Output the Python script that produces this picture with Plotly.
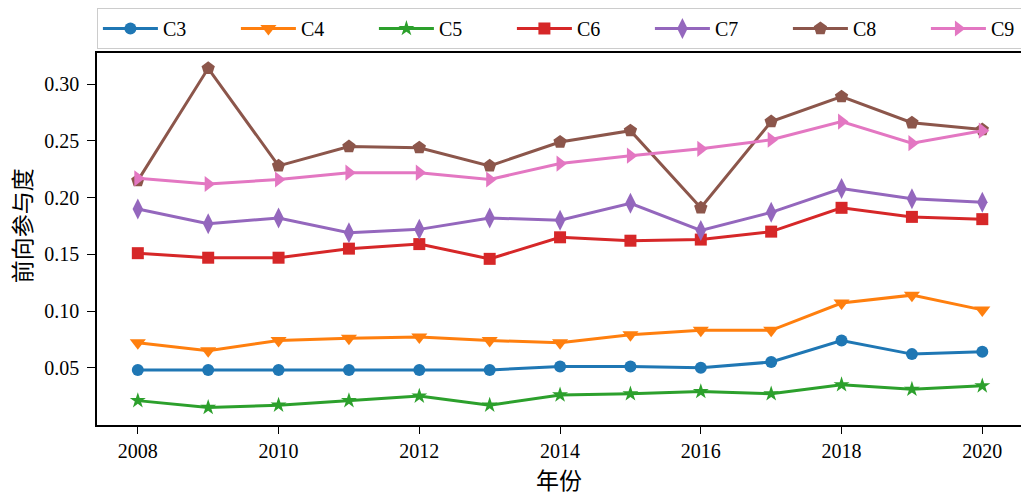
import plotly.graph_objects as go

# Years on the x axis
years = list(range(2008, 2021))

# Forward participation degree per sector group
c3 = [0.048, 0.048, 0.048, 0.048, 0.048, 0.048, 0.051, 0.051, 0.050, 0.055, 0.074, 0.062, 0.064]
c4 = [0.072, 0.065, 0.074, 0.076, 0.077, 0.074, 0.072, 0.079, 0.083, 0.083, 0.107, 0.114, 0.101]
c5 = [0.021, 0.015, 0.017, 0.021, 0.025, 0.017, 0.026, 0.027, 0.029, 0.027, 0.035, 0.031, 0.034]
c6 = [0.151, 0.147, 0.147, 0.155, 0.159, 0.146, 0.165, 0.162, 0.163, 0.170, 0.191, 0.183, 0.181]
c7 = [0.190, 0.177, 0.182, 0.169, 0.172, 0.182, 0.180, 0.195, 0.171, 0.187, 0.208, 0.199, 0.196]
c8 = [0.215, 0.314, 0.228, 0.245, 0.244, 0.228, 0.249, 0.259, 0.191, 0.267, 0.289, 0.266, 0.260]
c9 = [0.217, 0.212, 0.216, 0.222, 0.222, 0.216, 0.230, 0.237, 0.243, 0.251, 0.267, 0.248, 0.259]

series_names = ["C3", "C4", "C5", "C6", "C7", "C8", "C9"]
series_values = [c3, c4, c5, c6, c7, c8, c9]

x_tick_values = [2008, 2010, 2012, 2014, 2016, 2018, 2020]
y_tick_values = [0.05, 0.10, 0.15, 0.20, 0.25, 0.30]
y_tick_labels = ["0.05", "0.10", "0.15", "0.20", "0.25", "0.30"]

colors = ["#1f77b4", "#ff7f0e", "#2ca02c", "#d62728", "#9467bd", "#8c564b", "#e377c2"]
symbols = ["circle", "triangle-down", "star", "square", "diamond-tall", "pentagon", "triangle-right"]
sizes = [12, 14, 12, 12, 15, 14, 14]

SERIF = "Liberation Serif, Times New Roman, Noto Sans CJK SC, serif"
CJK = "Noto Sans CJK SC"

fig = go.Figure()
for name, vals, col, sym, sz in zip(series_names, series_values, colors, symbols, sizes):
    fig.add_trace(go.Scatter(
        x=years, y=vals, name=name, mode="lines+markers",
        line=dict(color=col, width=3),
        marker=dict(symbol=sym, size=sz, color=col, line=dict(width=0)),
    ))

# y-axis title, placed as rotated text left of the tick labels
fig.add_annotation(
    text="前向参与度", textangle=-90, showarrow=False,
    xref="paper", yref="paper", x=-0.082, y=0.535,
    xanchor="center", yanchor="middle",
    font=dict(family=CJK, size=23, color="black"),
)

fig.update_layout(
    width=1021, height=497,
    margin=dict(l=97, r=0, t=53, b=72, autoexpand=False),
    paper_bgcolor="white", plot_bgcolor="white",
    font=dict(family=SERIF, size=20, color="black"),
    showlegend=True,
    legend=dict(
        orientation="h", x=-0.0001, xanchor="left", y=1.121, yanchor="top",
        bgcolor="white", bordercolor="#cccccc", borderwidth=1,
        font=dict(family=SERIF, size=20, color="black"),
        itemwidth=55, entrywidth=68, entrywidthmode="pixels",
        itemclick=False,
    ),
    xaxis=dict(
        range=[2007.42, 2020.55], tickvals=x_tick_values,
        ticks="outside", ticklen=7, tickwidth=1.2, tickcolor="black",
        showline=True, linecolor="black", linewidth=1.5, mirror=True,
        showgrid=False, zeroline=False,
        tickfont=dict(family=SERIF, size=20),
        title=dict(text="年份", font=dict(family=CJK, size=23), standoff=4),
    ),
    yaxis=dict(
        range=[-0.0005, 0.3275], tickvals=y_tick_values, ticktext=y_tick_labels,
        ticks="outside", ticklen=8, tickwidth=1.2, tickcolor="black",
        ticklabelstandoff=4,
        showline=True, linecolor="black", linewidth=1.5, mirror=False,
        showgrid=False, zeroline=False,
        tickfont=dict(family=SERIF, size=20),
    ),
)

fig.write_html("out.html")
